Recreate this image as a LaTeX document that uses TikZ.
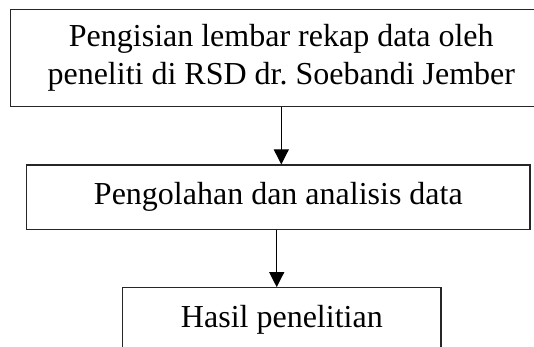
\documentclass[tikz,border=0pt]{standalone}
\usepackage{fontspec}
\setmainfont{Liberation Serif}
\usetikzlibrary{arrows.meta, positioning}

\begin{document}
\begin{tikzpicture}[box/.style={rectangle,draw=black!85,line width=1.2pt,inner sep=0pt,align=center,font=\fontsize{32}{38.3}\selectfont}, arr/.style={-{Triangle[width=15pt,length=15pt]},line width=1.2pt}]
        \useasboundingbox (0,0) rectangle (534pt,-347pt);
        \node[box, minimum width=541.2pt, minimum height=97.4pt] (isi) at (281.3pt,-58pt) {Pengisian lembar rekap data oleh\\peneliti di RSD dr.\ Soebandi Jember};
        \node[box, minimum width=503.3pt, minimum height=64.3pt] (olah) at (278.35pt,-197.15pt) {Pengolahan dan analisis data};
        \node[box, minimum width=318.3pt, minimum height=63.6pt] (hasil) at (281.85pt,-319.5pt) {Hasil penelitian};
        \draw[arr] (isi.south) -- (isi.south |- olah.north);
        \draw[arr] ([xshift=-1.65pt]olah.south) -- ([xshift=-1.65pt]olah.south |- hasil.north);
    \end{tikzpicture}
\end{document}
